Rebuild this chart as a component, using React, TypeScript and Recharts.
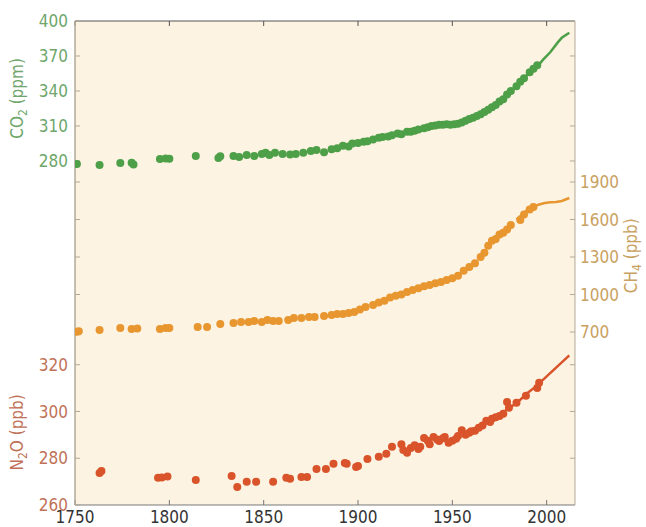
import React from "react";
import {
  ComposedChart,
  Scatter,
  Line,
  XAxis,
  YAxis,
  CartesianGrid,
} from "recharts";

type Pt = { year: number; v: number };
const pts = (rows: number[][]): Pt[] => rows.map(([year, v]) => ({ year, v }));

// ice core / firn samples
const co2Ice = pts([
  [1751, 277.4], [1763, 276.6], [1774, 278.3], [1780, 278.5], [1781, 277],
  [1795, 281.7], [1798, 282], [1800, 281.8], [1814, 284.3], [1826, 282.6],
  [1827, 284], [1834, 284.3], [1837, 283.4], [1841, 285], [1845, 284.3],
  [1849, 286], [1851, 287], [1853, 285], [1856, 287], [1860, 286],
  [1864, 285.5], [1867, 286], [1871, 287], [1875, 288.6], [1878, 289.5],
  [1882, 287.5], [1886, 290], [1889, 291], [1892, 293], [1895, 292.5],
  [1897, 295], [1900, 295.5], [1903, 296.5], [1905, 297], [1908, 298.5],
  [1911, 300], [1913, 300.5], [1916, 301], [1918, 302], [1921, 303.5],
  [1923, 303], [1926, 305], [1928, 305], [1930, 306], [1932, 307],
  [1935, 308], [1937, 309], [1939, 310], [1941, 310.5], [1943, 311],
  [1945, 311], [1947, 311.5], [1949, 311], [1951, 311.5], [1953, 312],
  [1955, 313], [1957, 314.5], [1959, 316], [1961, 317], [1963, 318.5],
  [1965, 320], [1967, 322], [1969, 324], [1971, 326], [1973, 328],
  [1975, 331], [1977, 333], [1979, 337], [1981, 340], [1984, 344],
  [1986, 348], [1988, 351], [1991, 356], [1993, 359], [1995, 362],
]);

const ch4Ice = pts([
  [1751, 702], [1752, 705], [1763, 716], [1774, 732], [1780, 724],
  [1783, 728], [1795, 724], [1798, 732], [1800, 732], [1815, 740],
  [1820, 740], [1827, 764], [1834, 772], [1838, 780], [1842, 780],
  [1845, 788], [1849, 780], [1852, 796], [1855, 788], [1858, 788],
  [1863, 796], [1866, 812], [1870, 812], [1874, 820], [1877, 820],
  [1882, 828], [1886, 836], [1889, 844], [1892, 844], [1895, 852],
  [1898, 860], [1901, 880], [1904, 900], [1908, 915], [1911, 935],
  [1914, 950], [1917, 975], [1920, 990], [1923, 1000], [1926, 1020],
  [1929, 1035], [1932, 1050], [1935, 1065], [1938, 1075], [1941, 1090],
  [1944, 1100], [1947, 1115], [1950, 1130], [1953, 1150], [1956, 1190],
  [1959, 1220], [1962, 1250], [1965, 1300], [1967, 1335], [1969, 1390],
  [1971, 1430], [1973, 1445], [1975, 1480], [1977, 1495], [1979, 1520],
  [1981, 1556], [1986, 1596], [1988, 1640], [1991, 1680], [1993, 1700],
]);

const n2oIce = pts([
  [1763, 273.7], [1764, 274.5], [1794, 271.6], [1796, 271.8], [1799, 272.2],
  [1814, 270.7], [1833, 272.4], [1836, 267.7], [1841, 269.9], [1846, 269.9],
  [1855, 269.9], [1862, 271.6], [1864, 271.2], [1870, 272], [1873, 272],
  [1878, 275.4], [1883, 275.4], [1887, 277.6], [1893, 278], [1894, 277.6],
  [1899, 276.3], [1900, 276.7], [1905, 279.7], [1911, 280.6], [1915, 281.9],
  [1918, 284.9], [1923, 286], [1924, 283.5], [1926, 282.3], [1928, 284.4],
  [1930, 285.5], [1932, 284], [1933, 284.9], [1935, 288.7], [1937, 287.5],
  [1938, 286], [1940, 289.1], [1942, 288], [1943, 287.4], [1945, 288.5],
  [1946, 289.1], [1948, 286.6], [1950, 287.5], [1952, 288.3], [1953, 289.5],
  [1955, 292], [1957, 290], [1959, 290.9], [1960, 291.5], [1962, 291.7],
  [1964, 293], [1966, 294], [1968, 296], [1970, 295.5], [1971, 296.9],
  [1973, 297.5], [1975, 298.1], [1977, 299], [1979, 304.1], [1980, 301.6],
  [1984, 303.7], [1989, 306.7], [1995, 310], [1996, 312.3],
]);

// direct atmospheric measurements
const co2Air = pts([
  [1958, 315.3], [1962, 318.5], [1966, 321.1], [1970, 325.7], [1974, 330.2],
  [1978, 335.4], [1982, 341.1], [1986, 347.2], [1990, 354.4], [1994, 358.8],
  [1998, 366.7], [2002, 373.4], [2006, 381.9], [2008, 385.6], [2012, 390],
]);
const ch4Air = pts([
  [1984, 1600], [1987, 1640], [1990, 1680], [1993, 1705], [1996, 1720],
  [1999, 1732], [2002, 1738], [2005, 1740], [2008, 1748], [2012, 1772],
]);
const n2oAir = pts([
  [1978, 300.5], [1982, 302.5], [1986, 305], [1990, 308], [1994, 310.5],
  [1998, 313.5], [2002, 316.5], [2006, 319.5], [2012, 324],
]);

const yearTicks = [1750, 1800, 1850, 1900, 1950, 2000];
const co2Ticks = [280, 310, 340, 370, 400];
const ch4Ticks = [700, 1000, 1300, 1600, 1900];
const ch4InnerTicks = [1000, 1300, 1600, 1900];
const n2oTicks = [260, 280, 300, 320];
const n2oInnerTicks = [280, 300, 320];

const FONT = "'Liberation Sans Narrow', 'DejaVu Sans Condensed', 'Roboto Condensed', Roboto, sans-serif";
const FS = 17;
const GREEN = "#4d9f48";
const ORANGE = "#e8962f";
const RED = "#d9542b";
const AXIS = "#b3a898";
const THIN = 0.01; // axes take no room, so all stack on the plot edge

const dot = (fill: string) => (p: any) => (
  <circle cx={p.cx} cy={p.cy} r={4} fill={fill} />
);

function AxisTitle(props: any) {
  const { viewBox, main, sub, unit, color, frac, side } = props;
  if (!viewBox) return null;
  const x = side === "left" ? 23 : viewBox.x + 62;
  const y = viewBox.y + viewBox.height * frac;
  return (
    <text
      x={x}
      y={y}
      transform={`rotate(-90, ${x}, ${y})`}
      textAnchor="middle"
      fill={color}
      fontFamily={FONT}
      fontSize={FS}
    >
      {main}
      <tspan fontSize={12} dy={4}>{sub}</tspan>
      <tspan dy={-4}>{unit}</tspan>
    </text>
  );
}

export default function App() {
  return (
    <div style={{ position: "absolute", left: 0, top: 0 }}>
      <ComposedChart
        width={646}
        height={527}
        margin={{ top: 21, right: 71, bottom: 22, left: 75 }}
        style={{ fontFamily: FONT }}
      >
        <CartesianGrid
          xAxisId="bottom"
          yAxisId="co2"
          horizontal={false}
          vertical={false}
          fill="#fdf3e2"
          stroke="none"
        />
        <XAxis
          xAxisId="bottom"
          dataKey="year"
          type="number"
          domain={[1750, 2015]}
          allowDataOverflow
          ticks={yearTicks}
          height={THIN}
          tickSize={-5}
          tickMargin={11}
          stroke="#777"
          tick={{ fill: "#333", fontSize: FS }}
        />
        <XAxis
          xAxisId="top"
          orientation="top"
          dataKey="year"
          type="number"
          domain={[1750, 2015]}
          allowDataOverflow
          ticks={yearTicks}
          height={THIN}
          tickSize={-5}
          tickFormatter={() => ""}
          stroke="#555"
        />
        <YAxis
          yAxisId="co2"
          type="number"
          domain={[-15, 400]}
          allowDataOverflow
          ticks={co2Ticks}
          width={THIN}
          tickSize={-5}
          tickMargin={12}
          stroke={AXIS}
          tick={{ fill: "#6ea66b", fontSize: FS }}
          label={<AxisTitle main="CO" sub="2" unit=" (ppm)" color="#6ea66b" frac={0.16} side="left" />}
        />
        <YAxis
          yAxisId="n2o"
          type="number"
          domain={[260, 467]}
          allowDataOverflow
          ticks={n2oTicks}
          width={THIN}
          tickSize={-5}
          tickMargin={12}
          stroke={AXIS}
          tick={{ fill: "#c07258", fontSize: FS }}
          label={<AxisTitle main="N" sub="2" unit="O (ppb)" color="#c07258" frac={0.85} side="left" />}
        />
        <YAxis
          yAxisId="ch4L"
          type="number"
          domain={[-684, 3188]}
          allowDataOverflow
          ticks={ch4InnerTicks}
          width={THIN}
          tickSize={-5}
          axisLine={false}
          stroke={AXIS}
          tickFormatter={() => ""}
        />
        <YAxis
          yAxisId="ch4"
          orientation="right"
          type="number"
          domain={[-684, 3188]}
          allowDataOverflow
          ticks={ch4Ticks}
          width={THIN}
          tickSize={-5}
          tickMargin={10}
          stroke={AXIS}
          tick={{ fill: "#c9a161", fontSize: FS }}
          label={<AxisTitle main="CH" sub="4" unit=" (ppb)" color="#c9a161" frac={0.485} side="right" />}
        />
        <YAxis
          yAxisId="co2R"
          orientation="right"
          type="number"
          domain={[-15, 400]}
          allowDataOverflow
          ticks={co2Ticks}
          width={THIN}
          tickSize={-5}
          axisLine={false}
          stroke={AXIS}
          tickFormatter={() => ""}
        />
        <YAxis
          yAxisId="n2oR"
          orientation="right"
          type="number"
          domain={[260, 467]}
          allowDataOverflow
          ticks={n2oInnerTicks}
          width={THIN}
          tickSize={-5}
          axisLine={false}
          stroke={AXIS}
          tickFormatter={() => ""}
        />

        <Line data={co2Air} dataKey="v" xAxisId="bottom" yAxisId="co2" stroke={GREEN} strokeWidth={2.5} dot={false} isAnimationActive={false} />
        <Line data={ch4Air} dataKey="v" xAxisId="bottom" yAxisId="ch4" stroke={ORANGE} strokeWidth={2.5} dot={false} isAnimationActive={false} />
        <Line data={n2oAir} dataKey="v" xAxisId="bottom" yAxisId="n2o" stroke={RED} strokeWidth={2.5} dot={false} isAnimationActive={false} />

        <Scatter data={co2Ice} dataKey="v" xAxisId="bottom" yAxisId="co2" shape={dot(GREEN)} isAnimationActive={false} />
        <Scatter data={ch4Ice} dataKey="v" xAxisId="bottom" yAxisId="ch4" shape={dot(ORANGE)} isAnimationActive={false} />
        <Scatter data={n2oIce} dataKey="v" xAxisId="bottom" yAxisId="n2o" shape={dot(RED)} isAnimationActive={false} />
      </ComposedChart>
    </div>
  );
}
